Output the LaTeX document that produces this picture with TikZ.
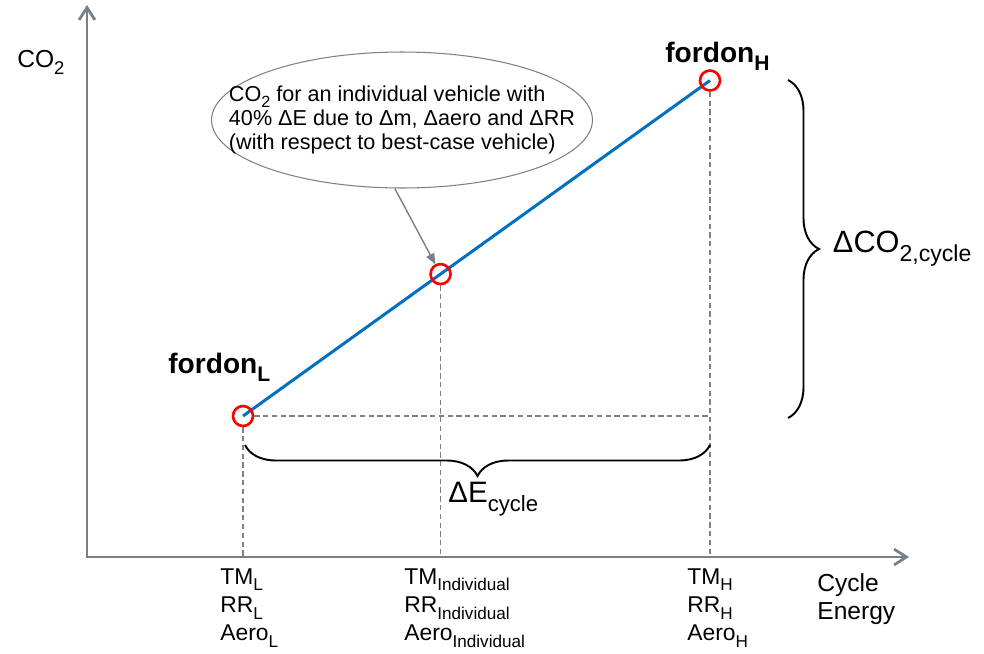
\documentclass[tikz,border=0pt]{standalone}
\usepackage{fontspec}
\setmainfont{Liberation Sans}
\usepackage{tikz}
\usetikzlibrary{positioning,calc,arrows.meta,shapes.geometric,decorations.pathreplacing}
\definecolor{axisgray}{RGB}{120,128,134}
\definecolor{lineblue}{RGB}{0,112,192}
\newcommand{\lowsub}[1]{\raisebox{-0.3em}{\scalebox{0.75}{#1}}}

\begin{document}
\begin{tikzpicture}[x=0.02cm,y=-0.02cm,every node/.style={inner sep=0pt},
    axis/.style={draw=axisgray,line width=1.6pt,
      {Straight Barb[length=7pt,width=9pt]}-{Straight Barb[length=7pt,width=9pt]}},
    guide/.style={draw=gray,line width=0.6pt,dash pattern=on 3pt off 2pt},
    pt/.style={circle,draw=red,line width=1.5pt,minimum size=0.4cm},
    bracebox/.style={draw,line width=1.1pt,decorate,decoration={brace,amplitude=0.62cm}},
    lbl/.style={anchor=north west,align=left,font=\fontsize{13}{16}\selectfont},
    fordon/.style={anchor=base west,font=\fontsize{16}{18}\selectfont\bfseries}]
    \useasboundingbox (0,0) rectangle (984,653);
    \coordinate (O) at (87,557);
    \coordinate (ytop) at (87,5);
    \coordinate (xend) at (909,557);
    \draw[axis] (ytop) -- (O) -- (xend);
    \node[anchor=base west,font=\fontsize{14}{16}\selectfont] (co2) at (17,67) {CO\lowsub{2}};
    \node[lbl,font=\fontsize{14}{16}\selectfont] (energy) at (817,573) {Cycle\\Energy};

    \coordinate (L) at (243,416);
    \coordinate (H) at (710,80.5);
    \coordinate (M) at ($(L)!0.423!(H)$);
    \draw[lineblue,line width=1.7pt] (L) -- (H);
    \node[pt] (cL) at (L) {};
    \node[pt] (cM) at (M) {};
    \node[pt] (cH) at (H) {};
    \node[fordon] (fL) at (168,373) {fordon\lowsub{L}};
    \node[fordon] (fH) at (665,62) {fordon\lowsub{H}};

    \coordinate (xL) at (L |- O);
    \coordinate (xM) at (M |- O);
    \coordinate (xH) at (H |- O);
    \coordinate (corner) at (H |- L);
    \draw[guide] (cL) -- (xL);
    \draw[guide] (cM) -- (xM);
    \draw[guide] (cH) -- (xH);
    \draw[guide] (cL) -- (corner);

    \node[lbl] (tL) at (220,568) {TM\lowsub{L}\\RR\lowsub{L}\\Aero\lowsub{L}};
    \node[lbl] (tM) at (404,568) {TM\lowsub{Individual}\\RR\lowsub{Individual}\\Aero\lowsub{Individual}};
    \node[lbl] (tH) at (687,568) {TM\lowsub{H}\\RR\lowsub{H}\\Aero\lowsub{H}};

    \coordinate (bt) at (788,80);
    \coordinate (bb) at (788,418);
    \draw[bracebox] (bt) -- (bb) node[midway,right=0.88cm,font=\fontsize{17.5}{20}\selectfont] (dco) {ΔCO\lowsub{2,cycle}};
    \coordinate (br) at (710,445);
    \coordinate (bl) at (245,445);
    \draw[bracebox] (br) -- (bl);
    \node[anchor=north west,font=\fontsize{16.8}{19}\selectfont] (dE) at (448,482) {ΔE\lowsub{cycle}};

    \node[ellipse,draw=gray,line width=0.6pt,minimum width=7.62cm,minimum height=2.72cm] (ell) at (402,120) {};
    \node[align=left,font=\fontsize{12.3}{13.8}\selectfont] (note) at (ell.center)
      {CO\lowsub{2} for an individual vehicle with\\40\% ΔE due to Δm, Δaero and ΔRR\\(with respect to best-case vehicle)};
    \draw[axisgray,line width=0.8pt,-{Triangle[length=6pt,width=5pt]}] (ell.-96) -- (cM);
\end{tikzpicture}
\end{document}
